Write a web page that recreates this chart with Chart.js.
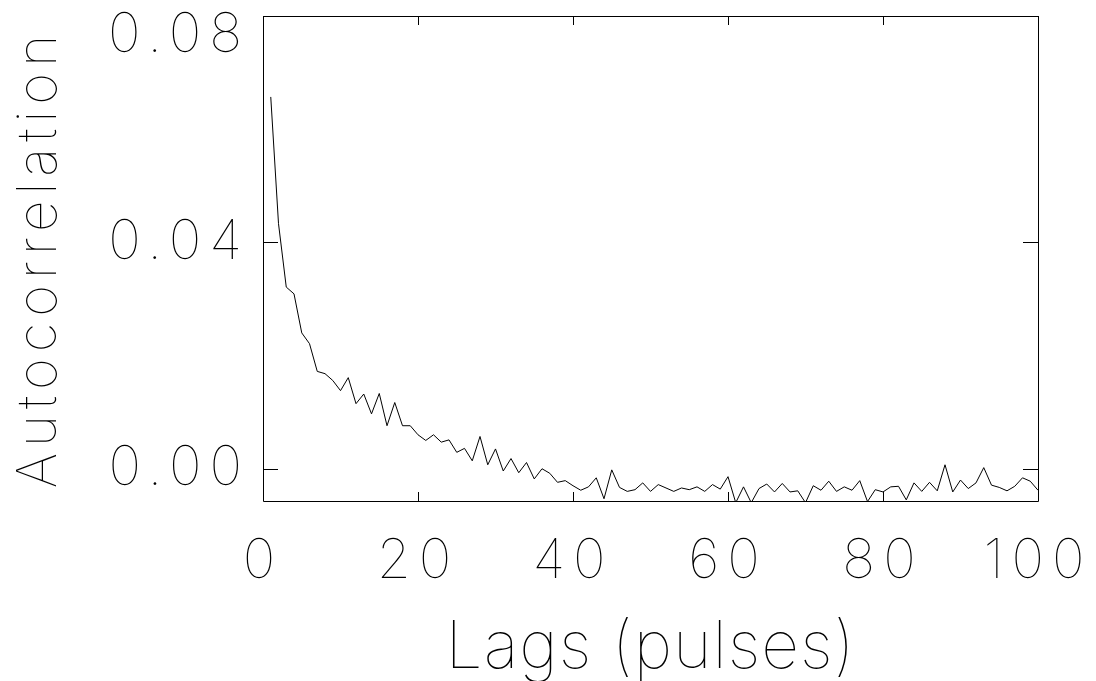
<!DOCTYPE html>
<html>
<head>
<meta charset="utf-8">
<script src="https://cdn.jsdelivr.net/npm/chart.js@4.4.0/dist/chart.umd.min.js"></script>
<style>
html,body{margin:0;padding:0;background:#fff;}
</style>
</head>
<body>
<canvas id="c" width="1096" height="681"></canvas>
<script>
// autocorrelation vs lag
const lags = [
  1,2,3,4,5,6,7,8,9,10,11,12,13,14,15,16,17,18,19,20,
  21,22,23,24,25,26,27,28,29,30,31,32,33,34,35,36,37,38,39,40,
  41,42,43,44,45,46,47,48,49,50,51,52,53,54,55,56,57,58,59,60,
  61,62,63,64,65,66,67,68,69,70,71,72,73,74,75,76,77,78,79,80,
  81,82,83,84,85,86,87,88,89,90,91,92,93,94,95,96,97,98,99,100
];
const acf = [
  0.0657, 0.0433, 0.0321, 0.0309, 0.0240, 0.0221, 0.0172, 0.0168, 0.0156, 0.0138,
  0.0161, 0.0115, 0.0132, 0.0097, 0.0133, 0.0076, 0.0117, 0.0076, 0.0076, 0.0060,
  0.0050, 0.0060, 0.0047, 0.0051, 0.0029, 0.0036, 0.0014, 0.0057, 0.0007, 0.0035,
  -0.0004, 0.0018, -0.0007, 0.0011, -0.0018, 0.0000, -0.0008, -0.0024, -0.0021, -0.0030,
  -0.0038, -0.0032, -0.0016, -0.0053, -0.0002, -0.0033, -0.0040, -0.0037, -0.0025, -0.0040,
  -0.0028, -0.0034, -0.0040, -0.0034, -0.0037, -0.0032, -0.0040, -0.0028, -0.0036, -0.0014,
  -0.0060, -0.0032, -0.0060, -0.0035, -0.0027, -0.0041, -0.0026, -0.0041, -0.0039, -0.0060,
  -0.0030, -0.0038, -0.0022, -0.0040, -0.0032, -0.0038, -0.0021, -0.0058, -0.0037, -0.0041,
  -0.0032, -0.0031, -0.0055, -0.0025, -0.0040, -0.0024, -0.0039, 0.0007, -0.0041, -0.0020,
  -0.0035, -0.0025, 0.0002, -0.0029, -0.0033, -0.0039, -0.0031, -0.0016, -0.0022, -0.0038
];
const yTicks = [0, 0.04, 0.08];
const xMajor = 20;
const xTitle = 'Lags (pulses)';
const yTitle = 'Autocorrelation';

const FAM = 'Inter, Lato, "Liberation Sans", sans-serif';

// espacamento entre letras por parte do eixo (fonte do IDL e bem espacada)
const spacing = { x: { labels: '8px', title: '1px' }, y: { labels: '8px', title: '6px' } };

function wrapSpacing(scale, name, ls){
  const orig = scale[name];
  scale[name] = function(){
    const c = this.ctx;
    c.save(); c.letterSpacing = ls;
    orig.apply(this, arguments);
    c.restore();
  };
}

// moldura + ticks para dentro (estilo IDL)
const frameTicks = {
  id: 'frameTicks',
  beforeDraw(chart){
    ['x', 'y'].forEach(id => {
      const s = chart.scales[id];
      if (s._ls) return;
      s._ls = true;
      wrapSpacing(s, 'drawLabels', spacing[id].labels);
      wrapSpacing(s, 'drawTitle', spacing[id].title);
    });
  },
  afterDraw(chart){
    const ctx = chart.ctx;
    const {left, right, top, bottom} = chart.chartArea;
    const sx = chart.scales.x, sy = chart.scales.y;
    ctx.save();
    ctx.strokeStyle = '#000';
    ctx.lineWidth = 1;
    ctx.beginPath();
    ctx.rect(Math.round(left)+0.5, Math.round(top)+0.5, Math.round(right-left), Math.round(bottom-top));
    sx.ticks.forEach(t=>{
      const px = Math.round(sx.getPixelForValue(t.value)) + 0.5;
      const len = t.value % xMajor === 0 ? 9 : 4.5;
      ctx.moveTo(px, bottom); ctx.lineTo(px, bottom - len);
      ctx.moveTo(px, top); ctx.lineTo(px, top + len);
    });
    sy.ticks.forEach(t=>{
      const py = Math.round(sy.getPixelForValue(t.value)) + 0.5;
      ctx.moveTo(left, py); ctx.lineTo(left + 15, py);
      ctx.moveTo(right, py); ctx.lineTo(right - 15, py);
    });
    ctx.stroke();
    ctx.restore();
  }
};

new Chart(document.getElementById('c'), {
  type: 'line',
  data: {
    datasets: [{
      data: lags.map((x, i) => ({x: x, y: acf[i]})),
      borderColor: '#000',
      borderWidth: 1,
      pointRadius: 0,
      tension: 0,
      fill: false
    }]
  },
  options: {
    responsive: false,
    animation: false,
    layout: { padding: { top: 16, right: 58, left: 0, bottom: 0 } },
    plugins: { legend: { display: false }, tooltip: { enabled: false } },
    scales: {
      x: {
        type: 'linear', min: 0, max: 100,
        afterFit(s){ s.height = 180; s.paddingLeft = 0; s.paddingRight = 0; },
        grid: { display: false },
        border: { display: false },
        ticks: {
          stepSize: 5, autoSkip: false, maxRotation: 0,
          padding: 25, color: '#000',
          font: { family: FAM, size: 55, weight: 100, lineHeight: 1 },
          callback: v => v % xMajor === 0 ? String(v) : null
        },
        title: {
          display: true, text: xTitle, color: '#000',
          padding: 0,
          font: { family: FAM, size: 66, weight: 100, lineHeight: 1 }
        }
      },
      y: {
        min: -0.0057, max: 0.08,
        afterFit(s){ s.width = 263; s.paddingTop = 0; s.paddingBottom = 0; },
        afterBuildTicks(s){ s.ticks = yTicks.map(v => ({value: v})); },
        grid: { display: false },
        border: { display: false },
        ticks: {
          padding: 5, color: '#000',
          font: ctx => ({ family: FAM, size: 55, weight: 100,
                          lineHeight: ctx.tick && ctx.tick.value === 0.08 ? '38px' : 1 }),
          callback: v => v === 0.08 ? ['', v.toFixed(2)] : v.toFixed(2)
        },
        title: {
          display: true, text: yTitle, color: '#000',
          padding: { top: 12, bottom: 0 },
          font: { family: FAM, size: 55, weight: 100, lineHeight: 1 }
        }
      }
    }
  },
  plugins: [frameTicks]
});
</script>
</body>
</html>
